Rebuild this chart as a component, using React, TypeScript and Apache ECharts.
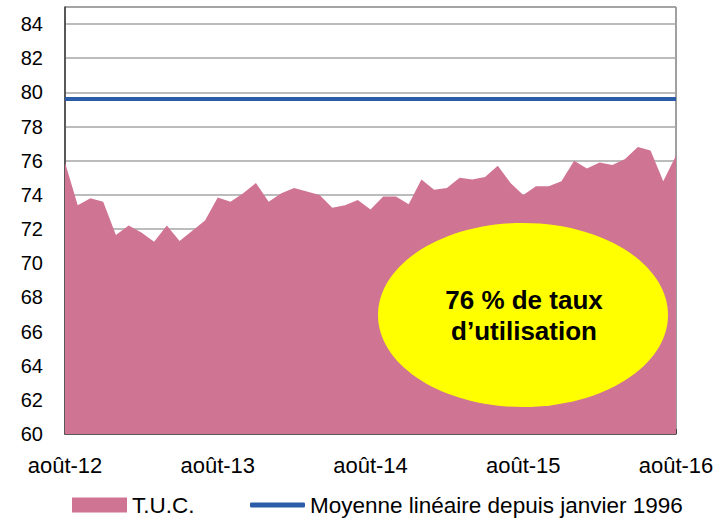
import React, { useEffect, useRef } from "react";
import * as echarts from "echarts";

const categories = [
  "août-12", "sept-12", "oct-12", "nov-12", "déc-12",
  "janv-13", "févr-13", "mars-13", "avr-13", "mai-13", "juin-13", "juil-13", "août-13", "sept-13", "oct-13", "nov-13", "déc-13",
  "janv-14", "févr-14", "mars-14", "avr-14", "mai-14", "juin-14", "juil-14", "août-14", "sept-14", "oct-14", "nov-14", "déc-14",
  "janv-15", "févr-15", "mars-15", "avr-15", "mai-15", "juin-15", "juil-15", "août-15", "sept-15", "oct-15", "nov-15", "déc-15",
  "janv-16", "févr-16", "mars-16", "avr-16", "mai-16", "juin-16", "juil-16", "août-16",
];

const tuc = [
  75.9, 73.4, 73.8, 73.6, 71.65, 72.2, 71.8, 71.25, 72.2, 71.3, 71.9, 72.5,
  73.85, 73.6, 74.1, 74.7, 73.6, 74.1, 74.4, 74.2, 74.0, 73.25, 73.4, 73.7,
  73.15, 73.9, 73.9, 73.45, 74.9, 74.3, 74.4, 75.0, 74.9, 75.05, 75.7, 74.7,
  74.0, 74.5, 74.5, 74.8, 76.0, 75.55, 75.9, 75.75, 76.1, 76.8, 76.6, 74.8,
  76.3,
];

const averageSince1996 = 79.6;

const seriesNames = ["T.U.C.", "Moyenne linéaire depuis janvier 1996"];
const calloutLines = ["76 % de taux", "d’utilisation"];

const PINK = "#D07493";
const BLUE = "#2B5CA8";
const FONT = "'Liberation Sans', Arial, sans-serif";

export default function App() {
  const ref = useRef<HTMLDivElement>(null);

  useEffect(() => {
    document.body.style.margin = "0";
    const chart = echarts.init(ref.current!, undefined, { renderer: "svg" });
    chart.setOption({
      animation: false,
      backgroundColor: "#ffffff",
      grid: {
        left: 65,
        right: 49,
        top: 7,
        bottom: 87,
        show: true,
        borderColor: "#404040",
        borderWidth: 1,
        backgroundColor: "transparent",
      },
      legend: [
        {
          data: [{ name: seriesNames[0], icon: "rect" }],
          left: 72,
          top: 492,
          padding: 0,
          itemWidth: 55,
          itemHeight: 15,
          selectedMode: false,
          textStyle: { fontFamily: FONT, fontSize: 22.5, color: "#000", lineHeight: 26 },
        },
        {
          data: [{ name: seriesNames[1], icon: "roundRect", itemStyle: { color: BLUE } }],
          left: 250,
          top: 492,
          padding: 0,
          itemWidth: 55,
          itemHeight: 5,
          selectedMode: false,
          textStyle: { fontFamily: FONT, fontSize: 22.5, color: "#000", lineHeight: 26 },
        },
      ],
      xAxis: {
        type: "category",
        data: categories,
        boundaryGap: false,
        axisLine: { show: true, lineStyle: { color: "#404040", width: 1.5 } },
        axisTick: { show: true, inside: true, length: 5, interval: 5, lineStyle: { color: "#404040" } },
        axisLabel: {
          interval: 11,
          margin: 20,
          fontFamily: FONT,
          fontSize: 22,
          color: "#000",
          showMaxLabel: true,
        },
        splitLine: { show: false },
      },
      yAxis: {
        type: "value",
        min: 60,
        max: 85,
        interval: 2,
        axisLine: { show: true, lineStyle: { color: "#404040", width: 1.5 } },
        axisTick: { show: false },
        axisLabel: {
          margin: 22,
          fontFamily: FONT,
          fontSize: 20,
          color: "#000",
          formatter: (v: number) => (v === 85 ? "" : String(v)),
        },
        splitLine: { show: true, lineStyle: { color: "#A6A6A6", width: 1.5 } },
      },
      series: [
        {
          name: seriesNames[0],
          type: "line",
          data: tuc,
          symbol: "none",
          lineStyle: { width: 0, color: PINK },
          itemStyle: { color: PINK },
          areaStyle: { color: PINK, opacity: 1, origin: "start" },
          z: 2,
        },
        {
          name: seriesNames[1],
          type: "line",
          data: [],
          symbol: "none",
          itemStyle: { color: BLUE },
          lineStyle: { color: BLUE, width: 4 },
          markLine: {
            silent: true,
            symbol: "none",
            label: { show: false },
            lineStyle: { color: BLUE, width: 4, type: "solid" },
            data: [{ yAxis: averageSince1996 }],
          },
          z: 3,
        },
      ],
      graphic: [
        {
          type: "ellipse",
          shape: { cx: 523, cy: 315, rx: 145, ry: 92 },
          style: { fill: "#FFFF00" },
          z: 10,
        },
        {
          type: "text",
          x: 524,
          y: 300,
          style: {
            text: calloutLines[0],
            fontFamily: FONT,
            fontWeight: "bold",
            fontSize: 26,
            fill: "#000",
            align: "center",
            verticalAlign: "middle",
          },
          z: 11,
        },
        {
          type: "text",
          x: 524,
          y: 331,
          style: {
            text: calloutLines[1],
            fontFamily: FONT,
            fontWeight: "bold",
            fontSize: 26,
            fill: "#000",
            align: "center",
            verticalAlign: "middle",
          },
          z: 11,
        },
      ],
    });
    return () => chart.dispose();
  }, []);

  return (
    <div
      ref={ref}
      style={{ position: "fixed", left: 0, top: 0, width: 725, height: 521 }}
    />
  );
}
